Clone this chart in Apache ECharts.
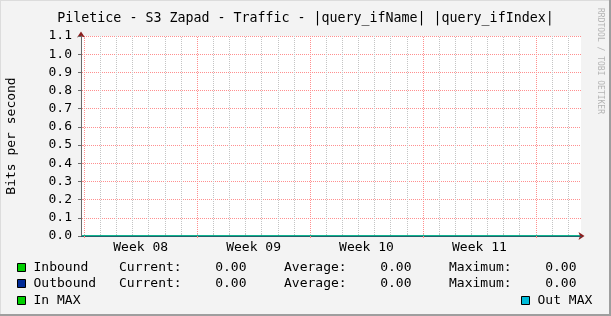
<!DOCTYPE html>
<html>
<head>
<meta charset="utf-8">
<script src="https://cdn.jsdelivr.net/npm/echarts@6/dist/echarts.min.js"></script>
<style>
html,body{margin:0;padding:0;background:#f3f3f3;}
#c{width:611px;height:316px;}
</style>
</head>
<body>
<div id="c"></div>
<script>
// ---- data ----
const titleText = 'Piletice - S3 Zapad - Traffic - |query_ifName| |query_ifIndex|';
const yName = 'Bits per second';
const sampleDays = [0, 31];            // time (days from graph start)
const inbound  = [0, 0];
const outbound = [0, 0];
const inMax    = [0, 0];
const outMax   = [0, 0];
const weekStarts = [0.2, 7.2, 14.2, 21.2, 28.2];   // week boundaries (days)
const weekLabels = ['Week 08', 'Week 09', 'Week 10', 'Week 11'];
const statNames   = ['Inbound', 'Outbound'];
const statCurrent = [0, 0];
const statAverage = [0, 0];
const statMaximum = [0, 0];

const FONT = '"DejaVu Sans Mono", monospace';
const RED_SOLID = '#ff8a8a';
const GRAY_SOLID = '#c4c4c4';
const ARROW = '#8b1e1e';

function dotPattern(color) {
  const c = document.createElement('canvas');
  c.width = 2; c.height = 2;
  const g = c.getContext('2d');
  g.fillStyle = color;
  g.fillRect(0, 0, 1, 1);
  g.fillRect(1, 1, 1, 1);
  return { image: c, repeat: 'repeat' };
}
const RED_DOT = dotPattern('#ff8f8f');
const GRAY_DOT = dotPattern('#c4c4c4');

// grid helpers
const dayLines = [];
const allDays = [];
for (let d = weekStarts[0]; d < 31; d += 1) {
  const r = Math.round(d * 10) / 10;
  allDays.push(r);
  if (!weekStarts.some(w => Math.abs(w - r) < 1e-6)) dayLines.push(r);
}
const weekMid = weekLabels.map((_, i) => weekStarts[i] + 3.5);

function statLine(name) {
  const i = statNames.indexOf(name);
  if (i < 0) return '{n|' + name + '}';
  return '{n|' + name + '}{k|Current:}{v|' + statCurrent[i].toFixed(2) + '}' +
         '{k|Average:}{v|' + statAverage[i].toFixed(2) + '}' +
         '{k|Maximum:}{w|' + statMaximum[i].toFixed(2) + '}';
}
const rich = {
  n: { width: 85.5, padding: [0, 0, 0, 3], fontFamily: FONT, fontSize: 13, color: '#000' },
  k: { width: 96.2, fontFamily: FONT, fontSize: 13, color: '#000' },
  v: { width: 68.8, fontFamily: FONT, fontSize: 13, color: '#000' },
  w: { fontFamily: FONT, fontSize: 13, color: '#000' }
};

const legendBase = {
  orient: 'horizontal', icon: 'rect', itemWidth: 8, itemHeight: 8, padding: 0,
  selectedMode: false,
  itemStyle: { borderColor: '#000', borderWidth: 1 },
  textStyle: { fontFamily: FONT, fontSize: 13, color: '#000', rich: rich },
  formatter: statLine
};

const chart = echarts.init(document.getElementById('c'), null, { renderer: 'canvas' });
chart.setOption({
  animation: false,
  backgroundColor: '#f3f3f3',
  title: {
    text: titleText, left: 'center', top: 7,
    textStyle: { fontFamily: FONT, fontSize: 13.3, fontWeight: 'normal', color: '#000' }
  },
  grid: { left: 81, top: 36, width: 500, height: 200, show: true, backgroundColor: '#ffffff', borderWidth: 0,
          containLabel: false, outerBoundsMode: 'none' },
  legend: [
    Object.assign({}, legendBase, { left: 17, top: 261, data: ['Inbound'] }),
    Object.assign({}, legendBase, { left: 17, top: 277, data: ['Outbound'] }),
    Object.assign({}, legendBase, { left: 17, top: 294, data: ['In MAX'] }),
    Object.assign({}, legendBase, { left: 521, top: 294, data: ['Out MAX'] })
  ],
  xAxis: [
    { // arrow axis
      type: 'value', min: 0, max: 31, position: 'bottom', z: 5,
      axisLine: { show: true, onZero: false, symbol: ['none', 'arrow'], symbolSize: [6, 6], symbolOffset: [0, 3.5],
                  lineStyle: { color: ARROW, width: 1 } },
      axisTick: { show: false }, axisLabel: { show: false }, splitLine: { show: false }
    },
    { // main axis
      type: 'value', min: 0, max: 31, position: 'bottom', z: 6,
      axisLine: { show: true, onZero: false, lineStyle: { color: '#22606a', width: 1 } },
      axisTick: { show: true, customValues: weekStarts, length: 2, lineStyle: { color: RED_SOLID } },
      axisLabel: {
        show: true, customValues: weekMid, margin: 5,
        fontFamily: FONT, fontSize: 13, color: '#000',
        formatter: v => { const i = weekMid.findIndex(m => Math.abs(m - v) < 1e-6); return i >= 0 ? weekLabels[i] : ''; }
      },
      splitLine: { show: false }
    },
    { // top tick marks
      type: 'value', min: 0, max: 31, position: 'top',
      axisLine: { show: false },
      axisTick: { show: true, customValues: allDays, length: 2, lineStyle: { color: GRAY_SOLID } },
      axisLabel: { show: false }, splitLine: { show: false }
    }
  ],
  yAxis: [
    { // arrow axis
      type: 'value', min: 0, max: 1.1, interval: 0.1, position: 'left', z: 5,
      axisLine: { show: true, onZero: false, symbol: ['none', 'arrow'], symbolSize: [6, 6], symbolOffset: [0, 4.5],
                  lineStyle: { color: ARROW, width: 1 } },
      axisTick: { show: false }, axisLabel: { show: false }, splitLine: { show: false }
    },
    { // main axis
      type: 'value', min: 0, max: 1.1, interval: 0.1, position: 'left', z: 6,
      name: yName, nameLocation: 'middle', nameGap: 63, nameRotate: 90,
      nameTextStyle: { fontFamily: FONT, fontSize: 13, color: '#000' },
      axisLine: { show: true, onZero: false, lineStyle: { color: '#6a6a6a', width: 1 } },
      axisTick: { show: true, length: 3, lineStyle: { color: '#6a6a6a' } },
      axisLabel: { margin: 9, fontFamily: FONT, fontSize: 13, color: '#000', formatter: v => v.toFixed(1) },
      splitLine: { show: false }
    },
    { // right-side tick marks + horizontal grid
      type: 'value', min: 0, max: 1.1, interval: 0.1, position: 'right',
      axisLine: { show: false },
      axisTick: { show: true, length: 2, lineStyle: { color: RED_SOLID } },
      axisLabel: { show: false },
      splitLine: { show: true, lineStyle: { color: RED_DOT, width: 1 } }
    }
  ],
  series: [
    {
      name: 'Inbound', type: 'line', xAxisIndex: 1, yAxisIndex: 1,
      data: sampleDays.map((d, i) => [d, inbound[i]]),
      showSymbol: false, itemStyle: { color: '#00cf00' },
      lineStyle: { color: '#00cf00', width: 1 }, areaStyle: { color: '#00cf00', opacity: 1 },
      z: 1,
      markLine: {
        silent: true, symbol: ['none', 'none'], label: { show: false }, z: 0,
        lineStyle: { color: GRAY_DOT, type: 'solid', width: 1 },
        data: dayLines.map(d => ({ xAxis: d }))
      }
    },
    {
      name: 'Outbound', type: 'line', xAxisIndex: 1, yAxisIndex: 1,
      data: sampleDays.map((d, i) => [d, outbound[i]]),
      showSymbol: false, itemStyle: { color: '#002a97' }, lineStyle: { color: '#002a97', width: 1 },
      z: 1,
      markLine: {
        silent: true, symbol: ['none', 'none'], label: { show: false }, z: 0,
        lineStyle: { color: RED_DOT, type: 'solid', width: 1 },
        data: weekStarts.map(d => ({ xAxis: d }))
      }
    },
    {
      name: 'In MAX', type: 'line', xAxisIndex: 1, yAxisIndex: 1,
      data: sampleDays.map((d, i) => [d, inMax[i]]),
      showSymbol: false, itemStyle: { color: '#00cf00' }, lineStyle: { color: '#00cf00', width: 1 }, z: 1
    },
    {
      name: 'Out MAX', type: 'line', xAxisIndex: 1, yAxisIndex: 1,
      data: sampleDays.map((d, i) => [d, outMax[i]]),
      showSymbol: false, itemStyle: { color: '#00bcd9' }, lineStyle: { color: '#00bcd9', width: 1 }, z: 1
    }
  ],
  graphic: [
    { type: 'rect', shape: { x: 0, y: 0, width: 611, height: 1 }, style: { fill: '#dcdcdc' }, silent: true },
    { type: 'rect', shape: { x: 0, y: 0, width: 1, height: 316 }, style: { fill: '#dcdcdc' }, silent: true },
    { type: 'rect', shape: { x: 609, y: 0, width: 2, height: 316 }, style: { fill: '#9e9e9e' }, silent: true },
    { type: 'rect', shape: { x: 0, y: 314, width: 611, height: 2 }, style: { fill: '#9e9e9e' }, silent: true },
    { type: 'text', x: 600, y: 61, rotation: -Math.PI / 2,
      style: { text: 'RRDTOOL / TOBI OETIKER', fill: '#b4b4b4', font: '8px "DejaVu Sans Mono", monospace',
               align: 'center', verticalAlign: 'middle' }, silent: true }
  ]
});
</script>
</body>
</html>
